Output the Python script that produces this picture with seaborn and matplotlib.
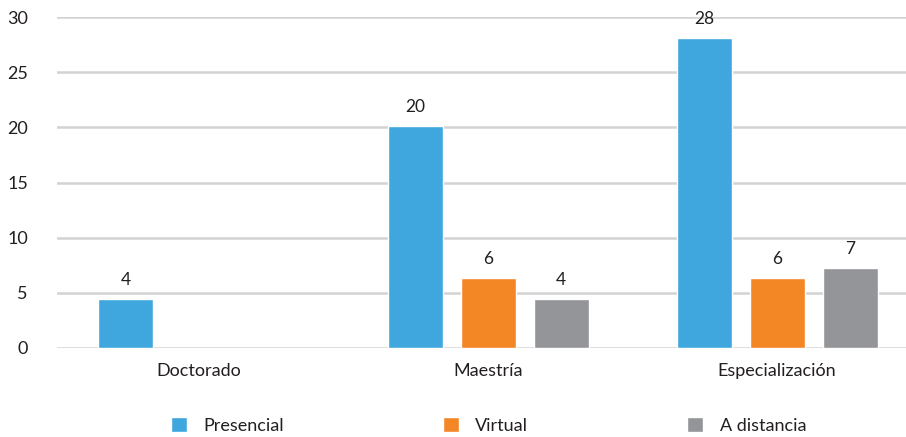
import pandas as pd
import matplotlib.pyplot as plt
import seaborn as sns
from matplotlib.patches import Patch

# Data
categories = ['Doctorado', 'Maestría', 'Especialización']
modalities = ['Presencial', 'Virtual', 'A distancia']
presencial = [4.4, 20.1, 28.1]
virtual = [None, 6.35, 6.35]
a_distancia = [None, 4.45, 7.25]
bar_labels = {'Presencial': ['4', '20', '28'],
              'Virtual': [None, '6', '6'],
              'A distancia': [None, '4', '7']}
colors = ['#3FA7DE', '#F38726', '#949599']

rows = []
for mod, vals in zip(modalities, [presencial, virtual, a_distancia]):
    for cat, v, lab in zip(categories, vals, bar_labels[mod]):
        if v is not None:
            rows.append({'nivel': cat, 'modalidad': mod, 'valor': v, 'etiqueta': lab})
df = pd.DataFrame(rows)

sns.set_style('white')
plt.rcParams['font.family'] = ['Lato', 'DejaVu Sans']

fig = plt.figure(figsize=(9.06, 4.37), dpi=100)
ax = fig.add_axes([0.063, 0.2037, 0.937, 0.7573])

sns.barplot(data=df, x='nivel', y='valor', hue='modalidad', order=categories,
            hue_order=modalities, palette=colors, width=0.758, gap=0.247,
            saturation=1, ax=ax, legend=False)

# Value labels above bars
for container, mod in zip(ax.containers, modalities):
    sub = df[df['modalidad'] == mod].set_index('nivel')
    for bar in container:
        h = bar.get_height()
        if h != h or h == 0:
            continue
        cx = bar.get_x() + bar.get_width() / 2
        cat = categories[int(round(cx))]
        ax.annotate(sub.loc[cat, 'etiqueta'], (cx, h), xytext=(0, 8),
                    textcoords='offset points', ha='center', va='bottom',
                    fontsize=12.5, color='#231F20')

ax.set_ylim(0, 30)
ax.set_xlim(-0.491, 2.446)
ax.set_yticks(range(0, 31, 5))
ax.yaxis.grid(True, color='#D3D3D3', linewidth=1.8)
ax.set_axisbelow(True)
for s in ax.spines.values():
    s.set_visible(False)
ax.tick_params(axis='y', length=0, pad=21, labelsize=13, labelcolor='#231F20')
ax.tick_params(axis='x', length=0, pad=11, labelsize=13, labelcolor='#231F20')
ax.set_xlabel('')
ax.set_ylabel('')

handles = [Patch(facecolor=c, label=m) for c, m in zip(colors, modalities)]
fig.legend(handles=handles, loc='center', bbox_to_anchor=(0.539, 0.027), ncol=3,
           frameon=False, fontsize=13, handlelength=0.9, handleheight=0.9,
           columnspacing=8.8, handletextpad=0.9, labelcolor='#231F20')

fig.savefig('out.png', dpi=100)
